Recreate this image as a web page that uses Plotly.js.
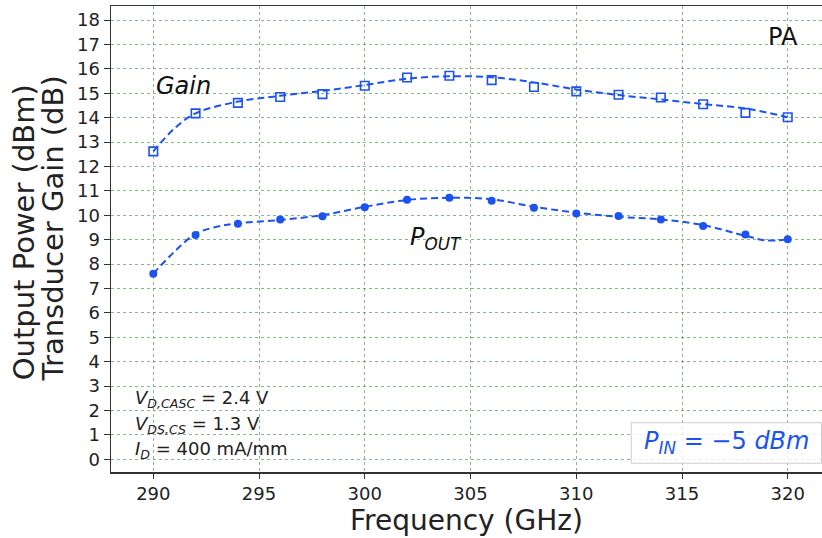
<!DOCTYPE html>
<html>
<head>
<meta charset="utf-8">
<script src="https://cdn.plot.ly/plotly-3.0.1.min.js"></script>
<style>html,body{margin:0;padding:0;background:#fff;}#chart{width:822px;height:538px;}</style>
</head>
<body>
<div id="chart"></div>
<script>
// Measured points
const freq = [290, 292, 294, 296, 298, 300, 302, 304, 306, 308, 310, 312, 314, 316, 318, 320];
const gain = [12.62, 14.18, 14.61, 14.85, 14.97, 15.31, 15.65, 15.72, 15.54, 15.26, 15.08, 14.94, 14.83, 14.55, 14.20, 14.02];
const pout = [7.61, 9.19, 9.65, 9.83, 9.96, 10.33, 10.64, 10.72, 10.60, 10.31, 10.08, 9.97, 9.83, 9.56, 9.21, 9.02];

// Fitted (dashed) curves
const fitFreqGain = [290, 291, 292, 294, 296, 298, 300, 302, 304, 306, 308, 310, 312, 314, 316, 318, 320];
const fitGain = [12.62, 13.56, 14.18, 14.66, 14.90, 15.10, 15.34, 15.60, 15.70, 15.66, 15.45, 15.16, 14.93, 14.75, 14.56, 14.38, 14.02];
const fitFreqPout = [290, 291, 292, 293, 294, 296, 298, 300, 302, 304, 306, 308, 310, 312, 314, 316, 318, 319, 320];
const fitPout = [7.61, 8.51, 9.24, 9.53, 9.67, 9.81, 10.01, 10.35, 10.63, 10.72, 10.66, 10.35, 10.11, 9.94, 9.83, 9.60, 9.16, 8.97, 9.02];

const yTicks = [0,1,2,3,4,5,6,7,8,9,10,11,12,13,14,15,16,17,18];
const xTicks = [290, 295, 300, 305, 310, 315, 320];

const blue = 'rgb(28,82,240)';
const font = 'DejaVu Sans, Arial, sans-serif';
const dashPat = '7px,4px';

const traces = [
  {x: fitFreqGain, y: fitGain, mode: 'lines', line: {color: blue, width: 2, dash: dashPat, shape: 'spline'}, hoverinfo: 'skip'},
  {x: freq, y: gain, mode: 'markers', marker: {symbol: 'square-open', size: 8.5, color: blue, line: {width: 1.6, color: blue}}},
  {x: fitFreqPout, y: fitPout, mode: 'lines', line: {color: blue, width: 2, dash: dashPat, shape: 'spline'}, hoverinfo: 'skip'},
  {x: freq, y: pout, mode: 'markers', marker: {symbol: 'circle', size: 8, color: blue}}
];

const gridColor = 'rgba(60,130,60,0.6)';

const layout = {
  width: 822, height: 538,
  margin: {l: 111, r: 0, t: 6, b: 66},
  paper_bgcolor: '#fff', plot_bgcolor: '#fff',
  showlegend: false,
  font: {family: font, color: '#222'},
  xaxis: {
    range: [288, 321.62], tickvals: xTicks, ticktext: xTicks.map(String),
    showgrid: true, gridcolor: gridColor, griddash: 'dot', gridwidth: 1,
    zeroline: false, showline: true, linecolor: '#333', linewidth: 1.5, mirror: true,
    ticks: 'outside', ticklen: 5, tickcolor: '#333', tickfont: {size: 18, family: font, color: '#222'}
  },
  yaxis: {
    range: [-0.52, 18.58], tickvals: yTicks, ticktext: yTicks.map(String),
    showgrid: true, gridcolor: gridColor, griddash: 'dot', gridwidth: 1,
    zeroline: false, showline: true, linecolor: '#333', linewidth: 1.5, mirror: false,
    ticks: 'outside', ticklen: 6, tickcolor: '#333', tickfont: {size: 18, family: font, color: '#222'}
  },
  shapes: [
    {type: 'rect', xref: 'x', yref: 'y', x0: 312.6, x1: 321.6, y0: -0.16, y1: 1.5,
     line: {color: '#cccccc', width: 1}, fillcolor: 'rgba(255,255,255,0.8)', layer: 'above'}
  ],
  annotations: [
    {xref: 'paper', yref: 'paper', x: 0.5, y: -0.105, xanchor: 'center', yanchor: 'middle', showarrow: false,
     text: 'Frequency (GHz)', font: {size: 28, family: font, color: '#222'}},
    {xref: 'paper', yref: 'paper', x: -0.122, y: 0.515, xanchor: 'center', yanchor: 'middle', showarrow: false, textangle: -90,
     text: 'Output Power (dBm)', font: {size: 29, family: font, color: '#222'}},
    {xref: 'paper', yref: 'paper', x: -0.082, y: 0.522, xanchor: 'center', yanchor: 'middle', showarrow: false, textangle: -90,
     text: 'Transducer Gain (dB)', font: {size: 29, family: font, color: '#222'}},
    {xref: 'x', yref: 'y', x: 290.05, y: 15.3, xanchor: 'left', yanchor: 'middle', showarrow: false,
     text: '<i>Gain</i>', font: {size: 24, family: font, color: '#111'}},
    {xref: 'x', yref: 'y', x: 319.77, y: 17.3, xanchor: 'center', yanchor: 'middle', showarrow: false,
     text: 'PA', font: {size: 24, family: font, color: '#111'}},
    {xref: 'x', yref: 'y', x: 302.04, y: 9.07, xanchor: 'left', yanchor: 'middle', showarrow: false,
     text: '<i>P<sub>OUT</sub></i>', font: {size: 24, family: font, color: '#111'}},
    {xref: 'x', yref: 'y', x: 289.04, y: 2.47, xanchor: 'left', yanchor: 'middle', showarrow: false,
     text: '<i>V<sub>D,CASC</sub></i> = 2.4 V', font: {size: 18, family: font, color: '#222'}},
    {xref: 'x', yref: 'y', x: 289.04, y: 1.41, xanchor: 'left', yanchor: 'middle', showarrow: false,
     text: '<i>V<sub>DS,CS</sub></i> = 1.3 V', font: {size: 18, family: font, color: '#222'}},
    {xref: 'x', yref: 'y', x: 289.04, y: 0.38, xanchor: 'left', yanchor: 'middle', showarrow: false,
     text: '<i>I<sub>D</sub></i> = 400 mA/mm', font: {size: 18, family: font, color: '#222'}},
    {xref: 'x', yref: 'y', x: 317.1, y: 0.67, xanchor: 'center', yanchor: 'middle', showarrow: false,
     text: '<i>P<sub>IN</sub></i> = −5 <i>dBm</i>', font: {size: 24, family: font, color: blue}}
  ]
};

Plotly.newPlot('chart', traces, layout, {staticPlot: true, displayModeBar: false});
</script>
</body>
</html>
